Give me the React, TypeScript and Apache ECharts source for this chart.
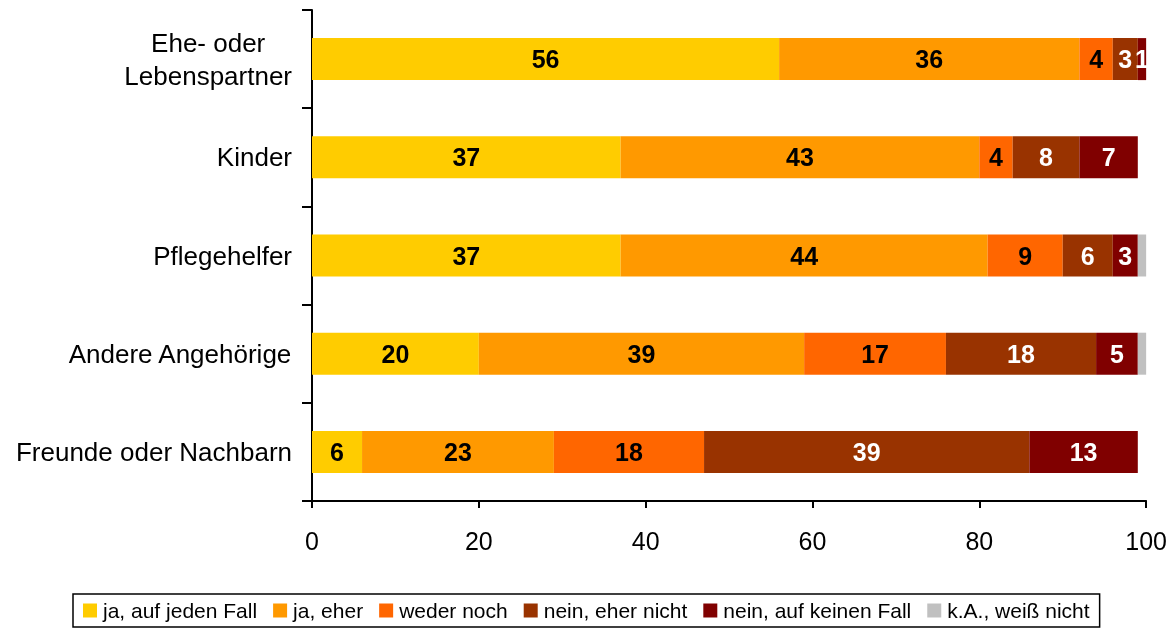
import React, { useEffect, useRef } from "react";
import * as echarts from "echarts";

const categories = [
  "Ehe- oder\nLebenspartner",
  "Kinder",
  "Pflegehelfer",
  "Andere Angehörige",
  "Freunde oder Nachbarn",
];

const seriesNames = [
  "ja, auf jeden Fall",
  "ja, eher",
  "weder noch",
  "nein, eher nicht",
  "nein, auf keinen Fall",
  "k.A., weiß nicht",
];

const jaAufJedenFall = [56, 37, 37, 20, 6];
const jaEher = [36, 43, 44, 39, 23];
const wederNoch = [4, 4, 9, 17, 18];
const neinEherNicht = [3, 8, 6, 18, 39];
const neinAufKeinenFall = [1, 7, 3, 5, 13];
const kaWeissNicht = [0, 0, 1, 1, 0];

const seriesValues = [
  jaAufJedenFall,
  jaEher,
  wederNoch,
  neinEherNicht,
  neinAufKeinenFall,
  kaWeissNicht,
];

const colors = ["#FFCC00", "#FF9900", "#FF6600", "#993300", "#800000", "#C0C0C0"];
const labelColors = ["#000", "#000", "#000", "#fff", "#fff", "#000"];
const showLabels = [true, true, true, true, true, false];

const xTicks = [0, 20, 40, 60, 80, 100];

export default function App() {
  const ref = useRef<HTMLDivElement>(null);
  useEffect(() => {
    if (!ref.current) return;
    const chart = echarts.init(ref.current, null, { renderer: "svg" });
    const font = "Liberation Sans, Arial, sans-serif";
    chart.setOption({
      animation: false,
      textStyle: { fontFamily: font },
      grid: { left: 312, right: 23, top: 10, bottom: 129, containLabel: false },
      xAxis: {
        type: "value",
        min: xTicks[0],
        max: xTicks[xTicks.length - 1],
        interval: 20,
        axisLine: { show: true, lineStyle: { color: "#000", width: 2 } },
        axisTick: { show: true, length: 7, lineStyle: { color: "#000", width: 2 } },
        splitLine: { show: false },
        axisLabel: { fontSize: 25, color: "#000", margin: 27, fontFamily: font },
      },
      yAxis: {
        type: "category",
        data: categories,
        inverse: true,
        axisLine: { show: true, lineStyle: { color: "#000", width: 2 } },
        axisTick: { show: true, length: 10, lineStyle: { color: "#000", width: 2 } },
        axisLabel: {
          fontSize: 26,
          color: "#000",
          margin: 20,
          align: "right",
          fontFamily: font,
          lineHeight: 33,
          formatter: (v: string) =>
            v
              .split("\n")
              .map((l) => `{c|${l}}`)
              .join("\n"),
          rich: {
            c: { align: "center", fontSize: 26, color: "#000", fontFamily: font, lineHeight: 33 },
          },
        },
      },
      legend: {
        left: 73,
        top: 594,
        orient: "horizontal",
        data: seriesNames,
        icon: "rect",
        itemWidth: 14,
        itemHeight: 14,
        itemGap: 16,
        borderColor: "#000",
        borderWidth: 1.5,
        borderRadius: 0,
        padding: [6, 10, 6, 10],
        textStyle: { fontSize: 21, color: "#000", fontFamily: font, padding: [0, 0, 0, 1] },
      },
      series: seriesNames.map((name, i) => ({
        name,
        type: "bar",
        stack: "total",
        barWidth: 42,
        data: seriesValues[i],
        itemStyle: { color: colors[i] },
        label: {
          show: showLabels[i],
          position: "inside",
          color: labelColors[i],
          fontWeight: "bold",
          fontSize: 25,
          fontFamily: font,
          formatter: (p: any) => (p.value > 0 ? String(p.value) : ""),
        },
      })),
    });
    return () => chart.dispose();
  }, []);
  return (
    <div
      ref={ref}
      style={{ position: "fixed", left: 0, top: 0, width: 1170, height: 630 }}
    />
  );
}
